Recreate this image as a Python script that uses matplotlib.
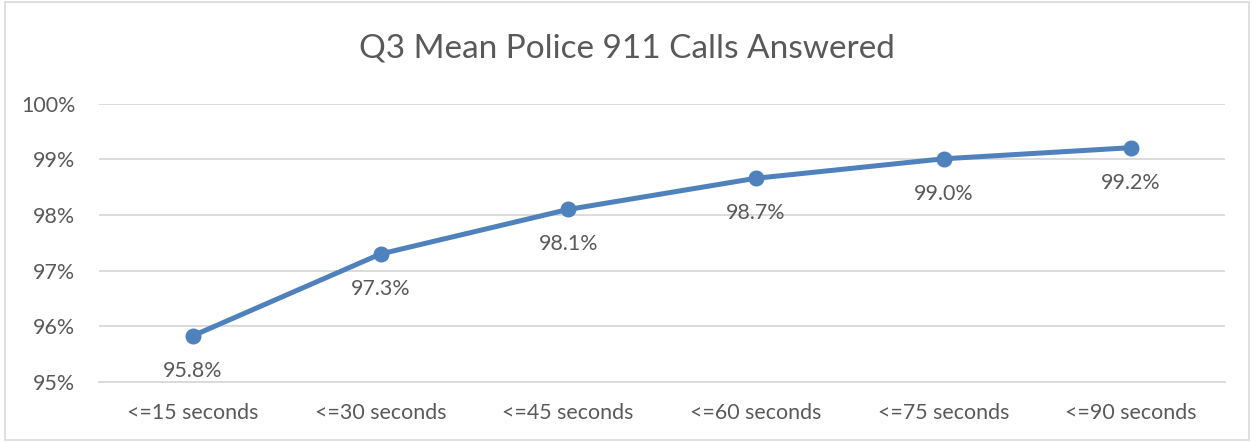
import matplotlib.pyplot as plt
from matplotlib.patches import Rectangle

categories = ['<=15 seconds', '<=30 seconds', '<=45 seconds', '<=60 seconds', '<=75 seconds', '<=90 seconds']
values = [95.83, 97.30, 98.10, 98.66, 99.01, 99.21]
labels = ['95.8%', '97.3%', '98.1%', '98.7%', '99.0%', '99.2%']
yticks = [95, 96, 97, 98, 99, 100]

plt.rcParams['font.family'] = ['Lato', 'DejaVu Sans']
text_col = '#595959'
line_col = '#4F81BD'
grid_col = '#D9D9D9'

fig = plt.figure(figsize=(12.54, 4.42), dpi=100)
fig.patches.append(Rectangle((0.004, 0.005), 0.992, 0.99, transform=fig.transFigure,
                             fill=False, edgecolor='#D9D9D9', linewidth=1.2))
ax = fig.add_axes([99 / 1254, 1 - 382 / 442, (1225 - 99) / 1254, (382 - 103.7) / 442])

x = [i + 0.5 for i in range(len(categories))]
ax.plot(x, values, color=line_col, linewidth=3.6, marker='o', markersize=10.5, zorder=3)
for xi, v, lab in zip(x, values, labels):
    ax.annotate(lab, (xi, v), xytext=(0, -18), textcoords='offset points',
                ha='center', va='top', fontsize=15.4, color=text_col)

ax.set_xlim(0, len(categories))
ax.set_ylim(95, 100)
ax.set_yticks(yticks)
ax.set_yticklabels(['{}%'.format(t) for t in yticks])
ax.set_xticks(x)
ax.set_xticklabels(categories)
ax.tick_params(axis='both', length=0, labelsize=15.4, labelcolor=text_col)
ax.tick_params(axis='x', pad=15)
ax.tick_params(axis='y', pad=17)
ax.grid(axis='y', color=grid_col, linewidth=1.3)
for s in ['top', 'right', 'left']:
    ax.spines[s].set_visible(False)
ax.spines['bottom'].set_color(grid_col)
ax.spines['bottom'].set_linewidth(1.3)

fig.text(0.5, 1 - 48 / 442, 'Q3 Mean Police 911 Calls Answered', ha='center', va='center',
         fontsize=24, color=text_col)

fig.savefig('out.png', dpi=100)
